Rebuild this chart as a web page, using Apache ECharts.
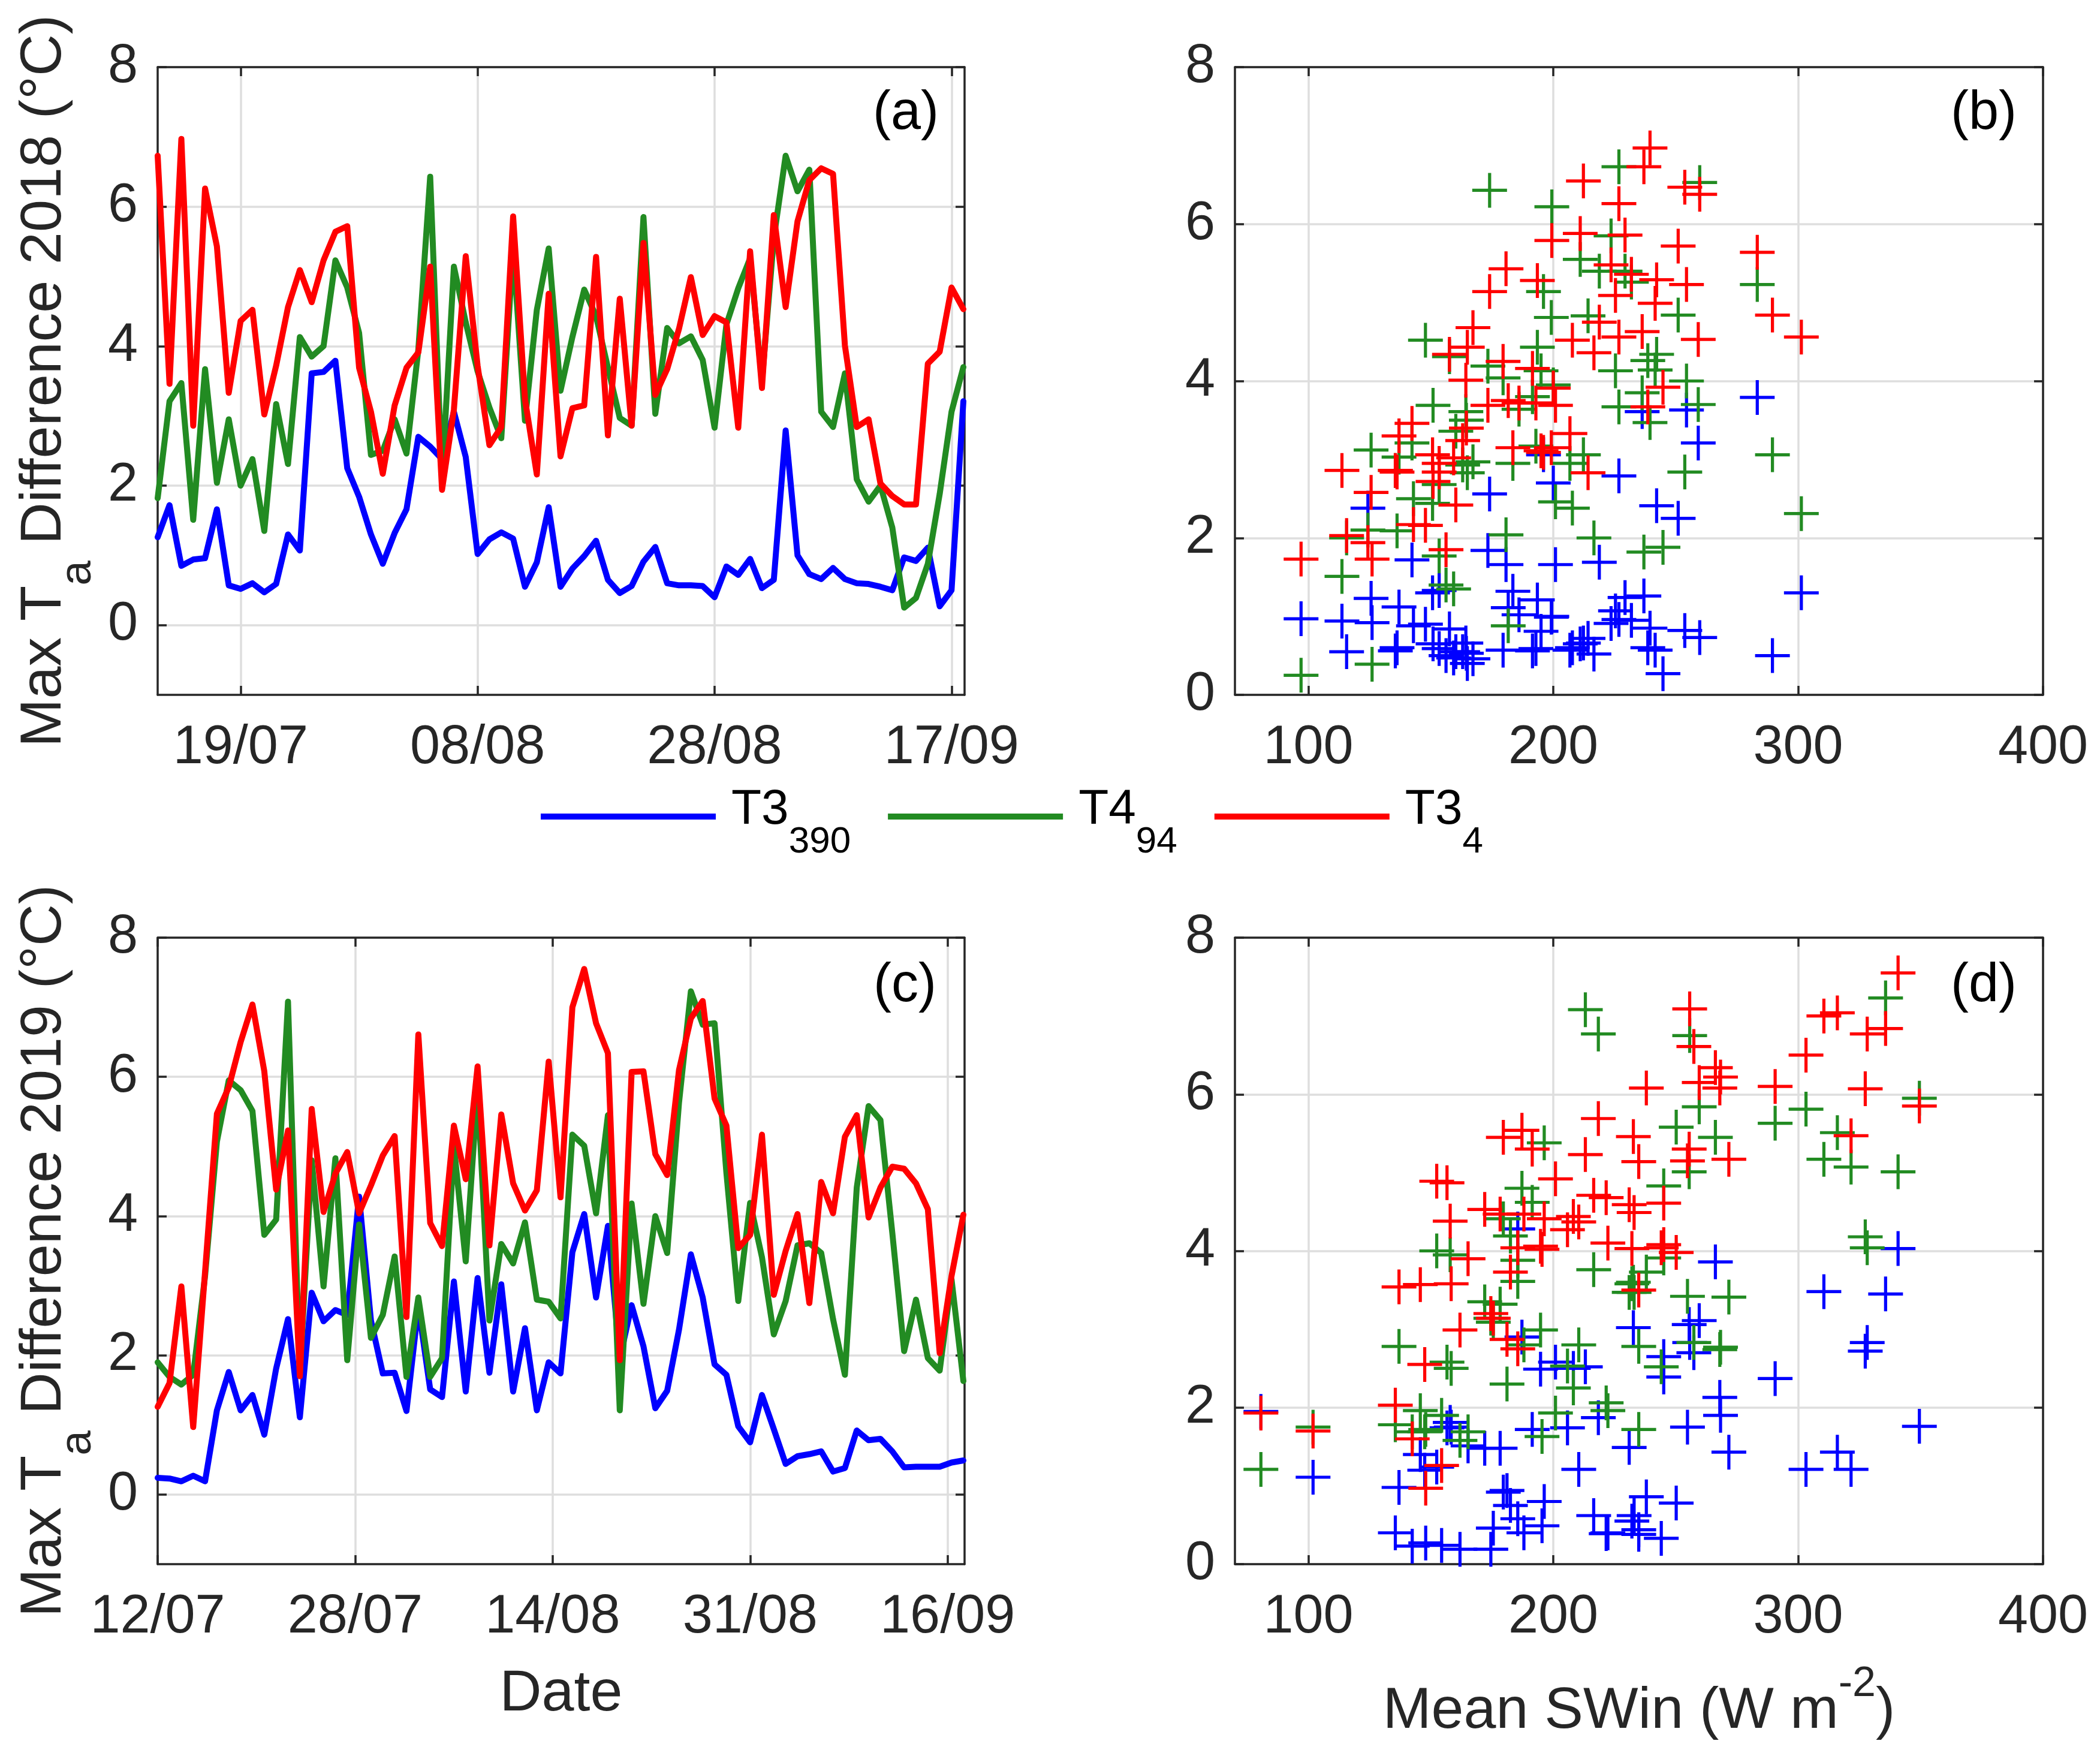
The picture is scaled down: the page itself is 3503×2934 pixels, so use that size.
<!DOCTYPE html>
<html><head><meta charset="utf-8">
<script src="https://cdn.jsdelivr.net/npm/echarts@6/dist/echarts.min.js"></script>
<style>html,body{margin:0;padding:0;background:#fff}#c{width:3503px;height:2934px}</style>
</head><body><div id="c"></div>
<script>
// ---------------- DATA ----------------
const seriesNames = ['T3_390', 'T4_94', 'T3_4'];

// 2018 daily values (12/07 .. 18/09)
const t3_390_2018 = [1.26,1.72,0.85,0.94,0.96,1.66,0.57,0.52,0.60,0.47,
  0.59,1.30,1.07,3.61,3.63,3.79,2.25,1.84,1.30,0.88,
  1.32,1.66,2.70,2.56,2.38,3.06,2.41,1.02,1.23,1.33,
  1.24,0.55,0.90,1.69,0.55,0.81,0.99,1.21,0.65,0.46,
  0.56,0.91,1.12,0.60,0.57,0.57,0.56,0.40,0.84,0.72,
  0.95,0.53,0.65,2.79,1.00,0.73,0.66,0.82,0.66,0.60,
  0.59,0.55,0.50,0.97,0.92,1.11,0.27,0.50,3.21];
const t4_94_2018 = [1.82,3.21,3.47,1.51,3.67,2.04,2.95,2.00,2.38,1.35,
  3.17,2.31,4.13,3.85,4.00,5.23,4.84,4.19,2.44,2.50,
  2.95,2.46,3.95,6.43,2.10,5.14,4.34,3.64,3.12,2.68,
  5.40,2.93,4.52,5.40,3.36,4.13,4.81,4.43,3.69,2.97,
  2.86,5.85,3.03,4.26,4.04,4.14,3.80,2.83,4.31,4.83,
  5.26,3.50,5.55,6.73,6.22,6.53,3.06,2.84,3.61,2.09,
  1.77,2.00,1.40,0.25,0.39,0.88,1.88,3.06,3.70];
const t3_4_2018 = [6.73,3.46,6.97,2.86,6.26,5.43,3.33,4.36,4.52,3.02,
  3.72,4.56,5.09,4.63,5.23,5.64,5.72,3.69,3.06,2.17,
  3.15,3.69,3.91,5.14,1.94,3.09,5.29,3.72,2.58,2.84,
  5.86,3.24,2.16,4.75,2.42,3.11,3.15,5.28,2.72,4.68,
  2.86,5.48,3.30,3.67,4.25,4.99,4.16,4.43,4.34,2.83,
  5.36,3.40,5.88,4.56,5.79,6.38,6.55,6.47,4.01,2.84,
  2.95,2.03,1.85,1.73,1.73,3.75,3.92,4.84,4.53];
const swin2018 = [237.0,142.3,239.5,113.7,226.8,180.7,206.8,216.6,207.8,159.3,
  192.9,301.3,225.4,236.3,254.4,283.3,251.0,173.3,150.7,142.9,
  183.5,200.9,200.0,174.0,124.3,196.0,242.2,186.0,125.6,153.4,
  229.3,163.0,147.8,218.8,160.2,195.0,199.2,193.5,150.9,167.2,
  135.5,223.6,137.0,238.6,179.5,241.6,191.5,164.9,157.6,214.2,
  231.9,164.5,211.0,226.8,199.4,259.8,212.3,253.7,164.3,136.2,
  153.4,115.6,156.2,97.0,126.0,181.6,244.8,289.5,259.2];

// 2019 daily values (12/07 .. 18/09)
const t3_390_2019 = [0.24,0.23,0.19,0.27,0.19,1.21,1.76,1.21,1.43,0.86,
  1.81,2.52,1.11,2.90,2.49,2.65,2.58,4.28,2.50,1.74,
  1.75,1.20,2.70,1.51,1.40,3.06,1.48,3.11,1.75,3.02,
  1.48,2.39,1.21,1.90,1.74,3.48,4.03,2.83,3.86,1.95,
  2.72,2.13,1.24,1.49,2.37,3.45,2.83,1.87,1.72,0.98,
  0.75,1.43,0.94,0.44,0.55,0.58,0.62,0.33,0.38,0.92,
  0.78,0.80,0.62,0.39,0.40,0.40,0.40,0.46,0.49];
const t4_94_2019 = [1.90,1.69,1.58,1.72,3.14,5.07,5.95,5.81,5.51,3.73,
  3.95,7.08,1.75,4.80,2.99,4.83,1.93,3.88,2.25,2.58,
  3.42,1.69,2.83,1.69,1.96,5.01,3.35,5.84,2.50,3.60,
  3.32,3.91,2.80,2.77,2.53,5.17,5.01,4.04,5.45,1.21,
  4.18,2.74,4.00,3.47,5.63,7.23,6.75,6.77,4.62,2.78,
  4.19,3.41,2.30,2.78,3.58,3.61,3.47,2.52,1.72,4.41,
  5.58,5.38,3.76,2.06,2.80,1.96,1.78,3.09,1.63];
const t3_4_2019 = [1.26,1.60,2.99,0.97,3.20,5.47,5.85,6.50,7.04,6.08,
  4.38,5.23,1.70,5.54,4.06,4.61,4.92,4.04,4.44,4.87,
  5.15,2.55,6.61,3.90,3.57,5.30,4.53,6.15,3.58,5.46,
  4.47,4.08,4.37,6.22,4.27,7.00,7.55,6.77,6.34,1.93,
  6.07,6.08,4.89,4.59,6.10,6.84,7.09,5.69,5.30,3.54,
  3.73,5.17,2.87,3.50,4.03,2.75,4.49,4.04,5.14,5.45,
  3.98,4.41,4.71,4.68,4.47,4.10,2.03,3.14,4.02];
const swin2019 = [154.4,142.4,161.9,147.9,174.5,321.6,349.5,303.2,316.0,238.0,
  157.9,213.1,101.9,187.2,194.8,245.1,200.9,185.5,208.2,156.6,
  254.8,147.5,257.4,165.2,145.7,255.5,172.0,259.6,158.3,232.7,
  178.3,245.1,210.4,268.3,205.8,310.5,340.8,328.2,266.2,80.6,
  327.4,268.0,152.4,231.0,290.6,335.7,255.7,218.4,191.4,137.0,
  182.5,271.7,181.1,234.9,232.1,185.5,233.0,244.1,234.9,179.6,
  250.2,196.3,216.5,221.6,188.0,222.3,135.5,175.5,195.4];

// Tick positions (days since 12/07) and labels
const xTicks2018 = [7, 27, 47, 67];
const xTickLabels2018 = ['19/07', '08/08', '28/08', '17/09'];
const xTicks2019 = [0, 16.667, 33.333, 50, 66.667];
const xTickLabels2019 = ['12/07', '28/07', '14/08', '31/08', '16/09'];
const yTicks = [0, 2, 4, 6, 8];
const swinTicks = [100, 200, 300, 400];

// ---------------- STYLE ----------------
const FONT = 'Liberation Sans';
const AX = '#262626';
const GRID_C = '#dedede';
const COLORS = ['#0000FF', '#228B22', '#FF0000'];
const PLUS = 'path://M-1,-0.09L-0.09,-0.09L-0.09,-1L0.09,-1L0.09,-0.09L1,-0.09L1,0.09L0.09,0.09L0.09,1L-0.09,1L-0.09,0.09L-1,0.09Z';

const grids = [
  {left: 263, top: 112, width: 1346, height: 1047},
  {left: 2060, top: 112, width: 1348, height: 1047},
  {left: 263, top: 1564, width: 1346, height: 1045},
  {left: 2060, top: 1564, width: 1348, height: 1045}
];

function labelFor(ticks, labels) {
  return v => {
    let best = 0;
    for (let i = 1; i < ticks.length; i++) if (Math.abs(ticks[i] - v) < Math.abs(ticks[best] - v)) best = i;
    return labels[best];
  };
}

function xAxisDef(g, min, max, ticks, labels, pos, extra) {
  const main = pos === 'bottom';
  return Object.assign({
    type: 'value', gridIndex: g, min: min, max: max, position: pos,
    axisLine: {show: true, onZero: false, lineStyle: {color: AX, width: 3.5}},
    axisTick: {show: true, inside: true, length: 15, customValues: ticks, lineStyle: {color: AX, width: 3.5}},
    axisLabel: main ? {show: true, customValues: ticks, formatter: labelFor(ticks, labels),
      margin: 44, fontSize: 90, color: AX, fontFamily: FONT} : {show: false},
    splitLine: main ? {show: true, lineStyle: {color: GRID_C, width: 3.5}} : {show: false}
  }, extra || {});
}
function yAxisDef(g, min, max, pos, extra) {
  const main = pos === 'left';
  return Object.assign({
    type: 'value', gridIndex: g, min: min, max: max, position: pos,
    axisLine: {show: true, onZero: false, lineStyle: {color: AX, width: 3.5}},
    axisTick: {show: true, inside: true, length: 15, customValues: yTicks, lineStyle: {color: AX, width: 3.5}},
    axisLabel: main ? {show: true, customValues: yTicks, margin: 33, fontSize: 90, color: AX, fontFamily: FONT} : {show: false},
    splitLine: main ? {show: true, lineStyle: {color: GRID_C, width: 3.5}} : {show: false}
  }, extra || {});
}

const yNameStyle = {
  rich: {
    m: {fontSize: 97, color: AX, fontFamily: FONT},
    s: {fontSize: 75, color: AX, fontFamily: FONT, padding: [112, 0, 0, 0]}
  }
};

const xAxes = [
  xAxisDef(0, 0, 68.1, xTicks2018, xTickLabels2018, 'bottom'),
  xAxisDef(1, 70, 400, swinTicks, swinTicks.map(String), 'bottom'),
  xAxisDef(2, 0, 68.1, xTicks2019, xTickLabels2019, 'bottom', {
    name: 'Date', nameLocation: 'middle', nameGap: 169,
    nameTextStyle: {fontSize: 97, color: AX, fontFamily: FONT}
  }),
  xAxisDef(3, 70, 400, swinTicks, swinTicks.map(String), 'bottom', {
    name: '{m|Mean SWin (W m}{p|-2}{m|)}', nameLocation: 'middle', nameGap: 166,
    nameTextStyle: {rich: {
      m: {fontSize: 97, color: AX, fontFamily: FONT},
      p: {fontSize: 70, color: AX, fontFamily: FONT, padding: [0, 0, 90, 0]}
    }}
  }),
  xAxisDef(0, 0, 68.1, xTicks2018, xTickLabels2018, 'top'),
  xAxisDef(1, 70, 400, swinTicks, swinTicks.map(String), 'top'),
  xAxisDef(2, 0, 68.1, xTicks2019, xTickLabels2019, 'top'),
  xAxisDef(3, 70, 400, swinTicks, swinTicks.map(String), 'top')
];
const yAxes = [
  yAxisDef(0, -1, 8, 'left', {name: '{m|Max T}{s|a}{m| Difference 2018 (°C)}', nameLocation: 'middle',
    nameGap: 95, nameRotate: 90, nameTextStyle: yNameStyle}),
  yAxisDef(1, 0, 8, 'left'),
  yAxisDef(2, -1, 8, 'left', {name: '{m|Max T}{s|a}{m| Difference 2019 (°C)}', nameLocation: 'middle',
    nameGap: 95, nameRotate: 90, nameTextStyle: yNameStyle}),
  yAxisDef(3, 0, 8, 'left'),
  yAxisDef(0, -1, 8, 'right'),
  yAxisDef(1, 0, 8, 'right'),
  yAxisDef(2, -1, 8, 'right'),
  yAxisDef(3, 0, 8, 'right')
];

const y2018 = [t3_390_2018, t4_94_2018, t3_4_2018];
const y2019 = [t3_390_2019, t4_94_2019, t3_4_2019];

const series = [];
function addLines(axisIdx, vals) {
  vals.forEach((arr, k) => {
    series.push({
      type: 'line', name: seriesNames[k], xAxisIndex: axisIdx, yAxisIndex: axisIdx,
      data: arr.map((v, i) => [i, v]), showSymbol: false, symbol: 'none',
      itemStyle: {color: COLORS[k]},
      lineStyle: {color: COLORS[k], width: 10, cap: 'round', join: 'round'},
      z: 2 + k
    });
  });
}
function addScatter(axisIdx, vals, swin) {
  vals.forEach((arr, k) => {
    series.push({
      type: 'scatter', name: seriesNames[k], xAxisIndex: axisIdx, yAxisIndex: axisIdx,
      data: arr.map((v, i) => [swin[i], v]), symbol: PLUS, symbolSize: 58,
      itemStyle: {color: COLORS[k], opacity: 1}, z: 2 + k
    });
  });
}
addLines(0, y2018);
addScatter(1, y2018, swin2018);
addLines(2, y2019);
addScatter(3, y2019, swin2019);

const legendLabels = {
  'T3_390': '{m|T3}{s|390}',
  'T4_94': '{m|T4}{s|94}',
  'T3_4': '{m|T3}{s|4}'
};

const panelText = (txt, x, y) => ({
  type: 'text', x: x, y: y, z: 100,
  style: {text: txt, fontSize: 90, fontFamily: FONT, fill: '#000', align: 'right', verticalAlign: 'middle'}
});

const option = {
  animation: false,
  backgroundColor: '#ffffff',
  grid: grids,
  xAxis: xAxes,
  yAxis: yAxes,
  series: series,
  legend: {
    show: true, selectedMode: false, left: 897, top: 1305,
    icon: 'rect', itemWidth: 292, itemHeight: 10, itemGap: 62,
    data: seriesNames,
    formatter: n => legendLabels[n],
    textStyle: {
      rich: {
        m: {fontSize: 82, color: '#000', fontFamily: FONT, padding: [0, 0, 22, 21]},
        s: {fontSize: 62, color: '#000', fontFamily: FONT, padding: [86, 0, 0, 0]}
      }
    }
  },
  graphic: [
    panelText('(a)', 1566, 190),
    panelText('(b)', 3364, 190),
    panelText('(c)', 1562, 1645),
    panelText('(d)', 3364, 1645)
  ]
};

const chart = echarts.init(document.getElementById('c'), null, {renderer: 'canvas', width: 3503, height: 2934, devicePixelRatio: 1});
chart.setOption(option);
</script>
</body></html>
